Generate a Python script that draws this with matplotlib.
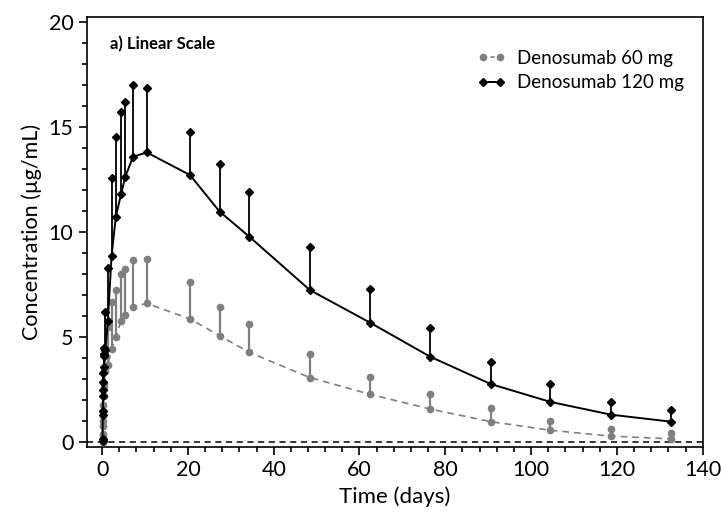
import matplotlib
matplotlib.use("Agg")
import matplotlib.pyplot as plt
from matplotlib.ticker import MultipleLocator
from matplotlib.lines import Line2D

plt.rcParams['font.family'] = ['Lato', 'DejaVu Sans']

# ---- data ----
time_days = [0.1, 0.15, 0.2, 0.3, 0.4, 0.55, 0.75, 1.35, 2.2, 3.2, 4.4, 5.4, 7.2, 10.4,
             20.5, 27.4, 34.3, 48.4, 62.5, 76.5, 90.6, 104.5, 118.7, 132.6]

mean_60 = [0.0, 0.3, 0.8, 1.5, 2.2, 2.8, 3.4, 3.7, 4.44, 5.04, 5.78, 6.07, 6.46, 6.62,
           5.88, 5.08, 4.29, 3.09, 2.29, 1.59, 0.99, 0.58, 0.30, 0.17]
sd_top_60 = [0.1, 0.4, 1.0, 1.8, 2.6, 3.4, 4.4, 5.5, 6.67, 7.26, 8.02, 8.26, 8.69, 8.72,
             7.62, 6.46, 5.64, 4.21, 3.13, 2.29, 1.63, 1.01, 0.64, 0.45]

mean_120 = [0.05, 1.3, 2.2, 2.9, 3.6, 4.2, 4.4, 5.8, 8.88, 10.75, 11.81, 12.65, 13.6, 13.81,
            12.73, 10.99, 9.80, 7.26, 5.70, 4.08, 2.78, 1.93, 1.32, 0.99]
sd_top_120 = [0.15, 1.5, 2.5, 3.3, 4.1, 4.5, 6.2, 8.3, 12.57, 14.55, 15.72, 16.22, 17.0, 16.89,
              14.79, 13.24, 11.94, 9.32, 7.29, 5.43, 3.82, 2.77, 1.94, 1.53]

label_60 = "Denosumab 60 mg"
label_120 = "Denosumab 120 mg"
panel_title = "a) Linear Scale"
x_label = "Time (days)"
y_label = "Concentration (µg/mL)"

gray = "#7f7f7f"

fig = plt.figure(figsize=(7.21, 5.11), dpi=100)
ax = fig.add_axes([0.1202, 0.1247, 0.9746 - 0.1202, 0.9673 - 0.1247])

# 60 mg
ax.vlines(time_days, mean_60, sd_top_60, color=gray, lw=1.6, zorder=2)
ax.plot(time_days, sd_top_60, 'o', color=gray, ms=4.5, zorder=3)
ax.plot(time_days, mean_60, '--', color=gray, lw=1.2, marker='o', ms=4.5, dashes=(4, 3), zorder=3)

# 120 mg
ax.vlines(time_days, mean_120, sd_top_120, color='black', lw=1.3, zorder=4)
ax.plot(time_days, sd_top_120, 'D', color='black', ms=4, zorder=5)
ax.plot(time_days, mean_120, '-', color='black', lw=1.4, marker='D', ms=4, zorder=5)

ax.axhline(0, color='black', lw=1.1, ls=(0, (4, 3)), zorder=1)

ax.set_xlim(-3.6, 140)
ax.set_ylim(-0.23, 20.27)
ax.xaxis.set_major_locator(MultipleLocator(20))
ax.xaxis.set_minor_locator(MultipleLocator(4))
ax.yaxis.set_major_locator(MultipleLocator(5))
ax.yaxis.set_minor_locator(MultipleLocator(1))
ax.tick_params(which='major', direction='out', length=6, width=1.2, labelsize=15.5, colors='black')
ax.tick_params(which='minor', direction='out', length=3.5, width=1.2)
ax.tick_params(top=False, right=False, which='both')
for s in ax.spines.values():
    s.set_linewidth(1.2)

ax.set_xlabel(x_label, fontsize=16, labelpad=4)
ax.set_ylabel(y_label, fontsize=15.5, labelpad=5)

ax.text(0.038, 0.955, panel_title, transform=ax.transAxes, fontsize=12,
        fontweight='bold', va='top', ha='left')

handles = [
    Line2D([], [], color=gray, ls='--', dashes=(2.5, 2), marker='o', ms=4.5, lw=1.2),
    Line2D([], [], color='black', ls='-', marker='D', ms=4, lw=1.4),
]
leg = ax.legend(handles, [label_60, label_120], loc='upper right',
                bbox_to_anchor=(0.997, 0.962), frameon=False, fontsize=13.5,
                handlelength=1.5, handletextpad=0.6, labelspacing=0.4,
                numpoints=2, borderpad=0.4)

fig.savefig("out.png", dpi=100)
